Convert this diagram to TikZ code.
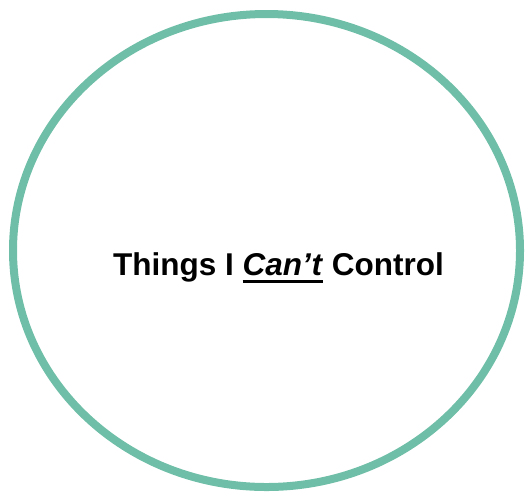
\documentclass[tikz,border=0pt]{standalone}
\usepackage{fontspec}
\setmainfont{Liberation Sans}
\definecolor{ringgreen}{RGB}{111,190,167}
\newcommand{\myunderline}[1]{\setbox0\hbox{#1}\rlap{\rule[-8pt]{\wd0}{3pt}}\box0\relax}
\tikzset{
  ring/.style={draw=ringgreen, line width=8pt},
  title/.style={font=\fontsize{31.5pt}{36pt}\selectfont\bfseries, anchor=base, inner sep=0pt}
}
\begin{document}
\begin{tikzpicture}[x=1pt,y=-1pt]
\useasboundingbox (0,0) rectangle (526,491);
\draw[ring] (266.5,250.5) ellipse [x radius=253.5, y radius=236.5];
\node[title] (t) at (278.5,275) {Things I \myunderline{\textit{Can’t}} Control};
\end{tikzpicture}
\end{document}
